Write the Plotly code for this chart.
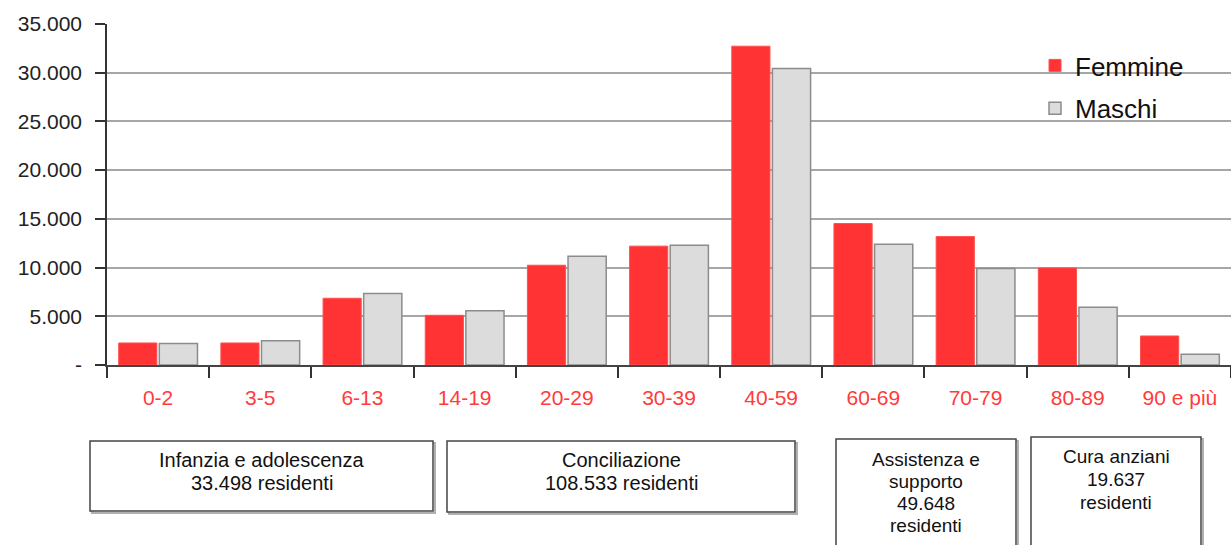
import plotly.graph_objects as go

categories = ["0-2", "3-5", "6-13", "14-19", "20-29", "30-39", "40-59", "60-69", "70-79", "80-89", "90 e più"]
femmine = [2260, 2260, 6850, 5100, 10240, 12200, 32720, 14520, 13180, 9960, 2980]
maschi = [2200, 2500, 7330, 5580, 11160, 12300, 30430, 12390, 9900, 5920, 1100]
y_tickvals = [0, 5000, 10000, 15000, 20000, 25000, 30000, 35000]
y_ticktext = ["-", "5.000", "10.000", "15.000", "20.000", "25.000", "30.000", "35.000"]
box_labels = [
    ["Infanzia e adolescenza", "33.498 residenti"],
    ["Conciliazione", "108.533 residenti"],
    ["Assistenza e", "supporto", "49.648", "residenti"],
    ["Cura anziani", "19.637", "residenti"],
]

W, H = 1231, 545
L, T, R, B = 107, 24, 1231, 365

def px_x(p):
    return (p - L) / (R - L)

def px_y(p):
    return (B - p) / (B - T)

FONT = "Liberation Sans, Arial, sans-serif"

fig = go.Figure()
fig.add_trace(go.Bar(x=categories, y=femmine, name="Femmine", legendgroup="f",
                     marker=dict(color="#ff3333", line=dict(color="#ff5050", width=1))))
fig.add_trace(go.Bar(x=categories, y=maschi, name="Maschi", legendgroup="m",
                     marker=dict(color="#dcdcdc", line=dict(color="#8c8c8c", width=1.5))))

# boxes (pixel geometry of layout elements)
boxes = [(90, 433, 441, 511), (447, 795, 441, 512), (836, 1016, 439, 560), (1031, 1201, 437, 560)]
line_centers = [[460, 483], [460, 483], [459, 481, 503, 525], [456, 479, 502]]
box_font = [20, 20, 19, 19]
shapes = []
annotations = []
for (x0, x1, y0, y1), lines, ys, fs in zip(boxes, box_labels, line_centers, box_font):
    shapes.append(dict(type="rect", xref="paper", yref="paper",
                       x0=px_x(x0 + 2), x1=px_x(x1 + 2), y0=px_y(y0 + 2), y1=px_y(y1 + 2),
                       line=dict(color="#b0b0b0", width=2), fillcolor="rgba(0,0,0,0)", layer="above"))
    shapes.append(dict(type="rect", xref="paper", yref="paper",
                       x0=px_x(x0), x1=px_x(x1), y0=px_y(y0), y1=px_y(y1),
                       line=dict(color="#444444", width=1.5), fillcolor="white", layer="above"))
    for txt, yc in zip(lines, ys):
        annotations.append(dict(xref="paper", yref="paper", x=px_x((x0 + x1) / 2), y=px_y(yc),
                                xanchor="center", yanchor="middle", text=txt, showarrow=False,
                                font=dict(family=FONT, size=fs, color="#111111"), align="center",
                                borderpad=0))

# white panel behind legend (covers gridlines)
shapes.append(dict(type="rect", xref="paper", yref="paper",
                   x0=px_x(1022), x1=px_x(1218), y0=px_y(48), y1=px_y(126),
                   line=dict(width=0), fillcolor="white", layer="between"))

fig.update_layout(
    width=W, height=H,
    margin=dict(l=L, r=W - R, t=T, b=H - B, pad=0),
    paper_bgcolor="white", plot_bgcolor="white",
    bargap=0.205, bargroupgap=0.06,
    font=dict(family=FONT, size=20, color="#222222"),
    showlegend=True,
    legend=dict(x=px_x(1035), y=px_y(42), xanchor="left", yanchor="top",
                bgcolor="rgba(0,0,0,0)", borderwidth=0, tracegroupgap=6,
                font=dict(family=FONT, size=26, color="#111111"), itemwidth=30),
    shapes=shapes, annotations=annotations,
)
fig.update_xaxes(
    type="category", range=[-0.5, 10.5], tickson="boundaries",
    ticks="outside", ticklen=11, tickwidth=1.5, tickcolor="#333333",
    showline=True, linecolor="#444444", linewidth=2,
    tickfont=dict(family=FONT, size=21, color="#ff3b3b"), showgrid=False,
    ticklabelstandoff=13,
)
fig.update_yaxes(
    range=[0, 35000], tickvals=y_tickvals, ticktext=y_ticktext,
    ticks="outside", ticklen=10, tickwidth=1.5, tickcolor="#333333",
    showline=True, linecolor="#333333", linewidth=1.5,
    showgrid=True, gridcolor="#a6a6a6", gridwidth=2, zeroline=False,
    tickfont=dict(family=FONT, size=21, color="#222222"), ticklabelstandoff=9,
)
fig.write_html("out.html")
